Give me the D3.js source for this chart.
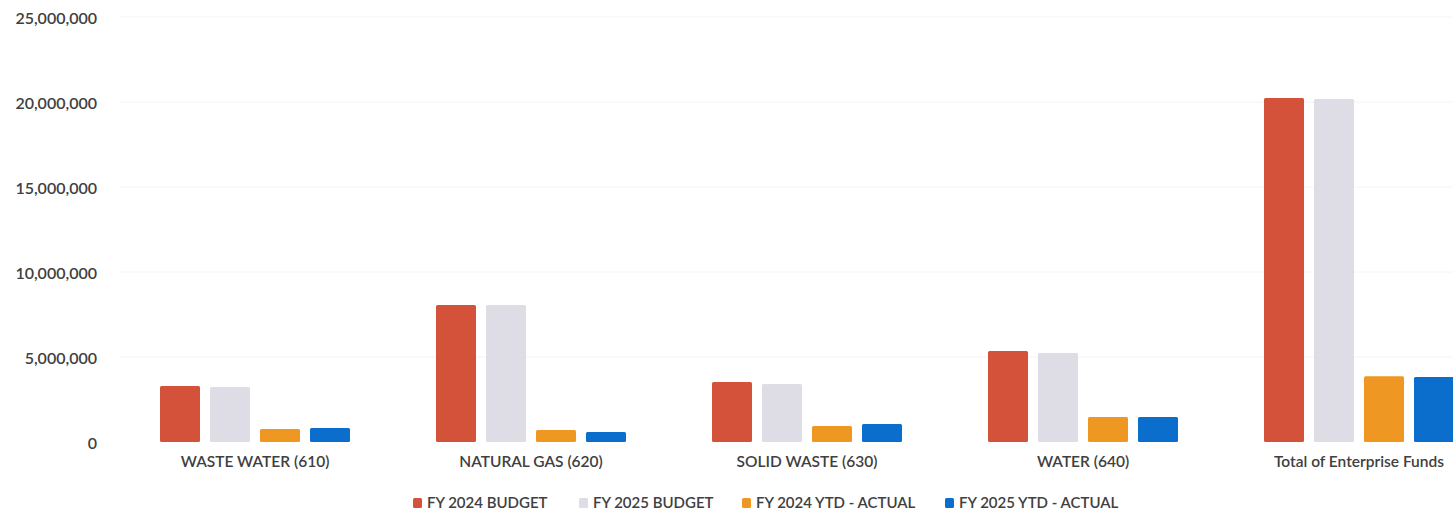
<!DOCTYPE html>
<html>
<head>
<meta charset="utf-8">
<script src="https://cdn.jsdelivr.net/npm/d3@7"></script>
<style>
  html, body { margin: 0; padding: 0; background: #fff; overflow: hidden; }
  svg { display: block; font-family: Lato, "Open Sans", sans-serif; }
</style>
</head>
<body>
<svg id="chart" width="1453" height="515"></svg>
<script>
// Enterprise fund budgets vs. year-to-date actuals
const categories = ["WASTE WATER (610)", "NATURAL GAS (620)", "SOLID WASTE (630)", "WATER (640)", "Total of Enterprise Funds"];
const seriesNames = ["FY 2024 BUDGET", "FY 2025 BUDGET", "FY 2024 YTD - ACTUAL", "FY 2025 YTD - ACTUAL"];
const fy2024Budget = [3290000, 8060000, 3530000, 5350000, 20230000];
const fy2025Budget = [3240000, 8060000, 3410000, 5240000, 20180000];
const fy2024Actual = [760000, 700000, 940000, 1470000, 3870000];
const fy2025Actual = [820000, 590000, 1060000, 1470000, 3820000];
const yTicks = [0, 5000000, 10000000, 15000000, 20000000, 25000000];
const colors = ["#D4523A", "#DEDCE4", "#EE9722", "#0B6DCC"];

const seriesValues = [fy2024Budget, fy2025Budget, fy2024Actual, fy2025Actual];

const svg = d3.select("#chart");

const y = d3.scaleLinear().domain([0, 25000000]).range([442, 17]);
const x0 = d3.scaleBand().domain(categories).range([117, 1497]);
const x1 = d3.scaleBand().domain(seriesNames).range([0, 200]).paddingInner(0.2).paddingOuter(0.1);

// faint horizontal gridlines
svg.append("g")
  .selectAll("line")
  .data(yTicks.slice(1))
  .join("line")
  .attr("x1", 120).attr("x2", 1453)
  .attr("y1", d => y(d)).attr("y2", d => y(d))
  .attr("stroke", "#f4f4f4").attr("stroke-width", 1);

// y axis labels
const yAxis = d3.axisLeft(y).tickValues(yTicks).tickSize(0).tickPadding(0)
  .tickFormat(d => d3.format(",")(d));
svg.append("g")
  .attr("transform", "translate(97,1)")
  .call(yAxis)
  .call(g => g.select(".domain").remove())
  .call(g => g.selectAll("text")
    .attr("font-size", 16)
    .attr("font-family", "Lato, sans-serif")
    .attr("font-weight", 600)
    .attr("fill", "#404040"));

// bars
const groups = svg.append("g")
  .selectAll("g")
  .data(categories)
  .join("g")
  .attr("transform", d => `translate(${x0(d) + x0.bandwidth() / 2 - 100},0)`);

groups.selectAll("rect")
  .data((d, i) => seriesNames.map((s, j) => ({ s, v: seriesValues[j][i], c: colors[j] })))
  .join("rect")
  .attr("x", d => x1(d.s))
  .attr("y", d => y(d.v))
  .attr("width", x1.bandwidth())
  .attr("height", d => y(0) - y(d.v))
  .attr("rx", 1.5)
  .attr("fill", d => d.c);

// category labels
const xAxis = d3.axisBottom(x0).tickSize(0).tickPadding(0);
svg.append("g")
  .attr("transform", "translate(0,456)")
  .call(xAxis)
  .call(g => g.select(".domain").remove())
  .call(g => g.selectAll("text")
    .attr("font-size", 15.5)
    .attr("font-family", "Lato, sans-serif")
    .attr("font-weight", 600)
    .attr("fill", "#404040"));

// legend
const legendX = [413, 579, 742, 945];
const legend = svg.append("g")
  .selectAll("g")
  .data(seriesNames)
  .join("g")
  .attr("transform", (d, i) => `translate(${legendX[i]},503)`);
legend.append("rect")
  .attr("x", 0).attr("y", -5).attr("width", 9).attr("height", 10).attr("rx", 1.5)
  .attr("fill", (d, i) => colors[i]);
legend.append("text")
  .attr("x", 14).attr("y", 0).attr("dy", "0.35em")
  .attr("font-size", 15)
  .attr("font-family", "Lato, sans-serif")
  .attr("font-weight", 600)
  .attr("fill", "#404040")
  .text(d => d);
</script>
</body>
</html>
